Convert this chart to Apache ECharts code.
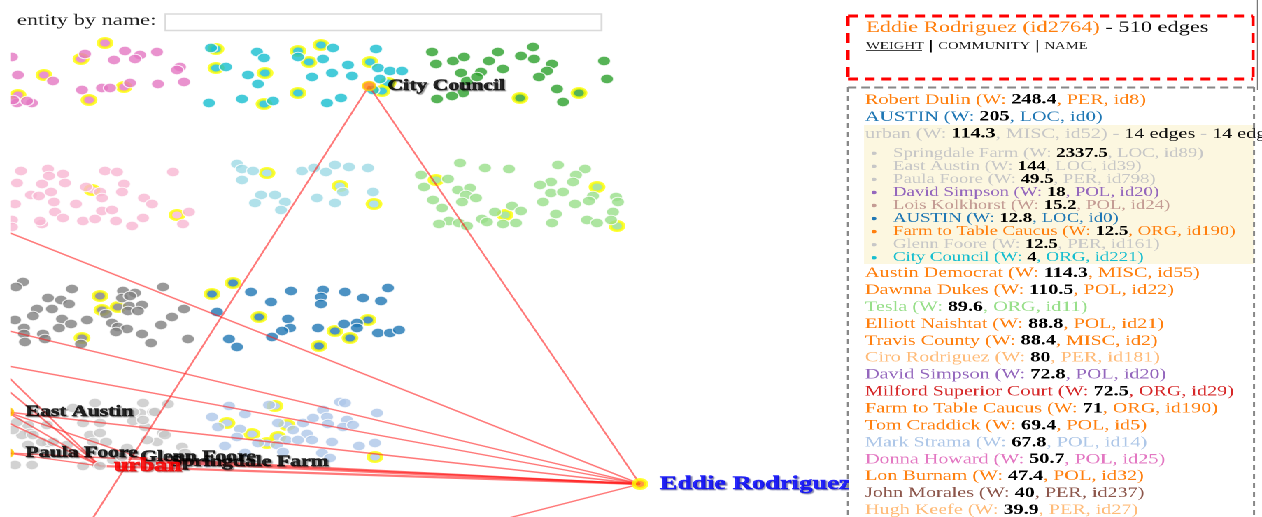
<!DOCTYPE html>
<html>
<head>
<meta charset="utf-8">
<script src="https://cdn.jsdelivr.net/npm/echarts@6/dist/echarts.min.js"></script>
<style>
  html, body { margin: 0; padding: 0; background: #fff; overflow: hidden; }
  /* the reference is stretched sideways, so the chart is drawn narrow and widened */
  #chart { width: 902px; height: 517px; transform: scaleX(1.39911); transform-origin: 0 0; }
</style>
</head>
<body>
<div id="chart"></div>
<script>
const S = 1262 / 902
const sx = v => v / S
const FONT = '"Liberation Serif", "Times New Roman", serif'

// node layout per community: [x, y, highlighted]
const pinkNodes = [[12,57],[105,43,1],[85,54],[81,59,1],[125,51],[140,55],[135,59],[114,60],[157,52],[180,67],[177,70],[18,75],[44,75,1],[53,81],[82,90],[102,88],[110,88],[124,87,1],[130,83],[158,84],[184,82],[18,95,1],[17,103],[32,103],[27,101],[89,100,1],[13,100]]
const cyanNodes = [[216,49,1],[211,48],[257,52],[264,58],[298,51,1],[298,57],[309,62,1],[321,45,1],[333,48],[323,59],[376,49],[370,62,1],[378,68],[390,71],[402,71],[216,68,1],[226,67],[248,75],[265,73,1],[258,84],[312,77],[332,73],[348,65],[352,76],[380,79],[388,83,1],[373,90],[382,91,1],[298,93,1],[209,103],[242,99],[264,104,1],[273,101],[327,103],[341,98]]
const greenNodes = [[432,52],[436,64],[453,61],[464,57],[461,73],[467,81],[463,93],[452,96],[437,99],[481,72],[477,77],[489,61],[498,52],[503,69],[521,56],[533,47],[534,59],[552,64],[547,71],[539,77],[557,89],[563,102],[520,98,1],[579,93,1],[604,61],[607,79]]
const lightPinkNodes = [[21,171],[48,169],[49,176],[63,174],[105,171],[117,172],[173,172],[17,183],[42,184],[65,183],[92,190,1],[86,187],[100,192],[124,184],[31,195],[39,196],[51,192],[102,198],[122,192],[144,198],[152,204],[15,204],[54,202],[76,204],[55,212],[102,211],[112,210],[177,215,1],[189,212],[183,224],[63,218],[83,221],[95,219],[116,221],[143,218],[132,226],[42,224],[40,221],[12,220],[12,227]]
const lightCyanNodes = [[237,164],[242,169],[253,171],[267,173,1],[242,180],[302,171],[314,168],[326,172],[335,165],[349,167],[368,168],[340,186,1],[343,192],[373,192],[374,204,1],[317,198],[335,203],[261,195],[275,195],[285,202],[255,203],[281,210]]
const lightGreenNodes = [[460,163],[485,168],[509,169],[421,175],[436,180,1],[448,179],[424,187],[458,190],[470,188],[466,195],[476,198],[462,202],[433,200],[442,208],[512,206],[521,211],[495,212],[505,215,1],[482,219],[487,222],[503,224],[516,223],[449,221],[459,223],[439,224],[467,226],[558,165],[585,169],[576,175],[551,182],[540,185],[573,182],[551,193],[563,192],[543,202],[575,204],[597,187,1],[593,196],[589,201],[616,197],[618,202],[613,212],[556,214],[552,223],[587,220],[597,223],[611,220],[617,226,1]]
const grayNodes = [[23,282],[16,287],[72,289],[48,298],[61,300],[69,304],[100,296,1],[123,291],[135,293],[122,298],[130,296],[118,307,1],[129,306],[142,305],[128,311],[138,311],[102,310,1],[106,314],[163,287],[37,309],[52,309],[33,316],[15,320],[62,319],[71,324],[59,328],[87,320],[112,323],[118,327],[127,329],[116,332],[24,328],[24,334],[43,334],[45,339],[25,342],[82,338,1],[81,344],[142,334],[151,343],[161,325],[172,317],[184,309],[188,339]]
const blueNodes = [[233,283,1],[212,294,1],[251,292],[291,291],[323,290],[345,292],[388,288],[271,302],[321,297],[321,304],[363,298],[381,301],[217,312],[259,317,1],[288,319],[290,328],[282,331],[318,328],[335,331,1],[344,324],[357,323],[357,328],[368,320,1],[350,338,1],[378,333],[390,333],[399,330],[272,337],[229,339],[237,347],[319,346,1]]
const lightGrayNodes = [[95,403],[143,403],[168,404],[140,413],[153,412],[133,421],[145,427],[83,423],[100,423],[28,425],[30,433],[17,422],[22,435],[90,435],[100,433],[106,442],[93,442],[48,443],[42,442],[28,445],[163,433],[157,442],[182,447],[185,453],[127,448],[87,450],[32,465],[83,466],[98,465],[113,460],[13,430],[15,465],[73,408],[47,425],[33,435],[53,442],[67,445],[147,440],[165,435],[143,420],[155,412],[133,412]]
const lightBlueNodes = [[229,406],[269,405],[275,406,1],[340,402],[345,403],[245,414],[212,417],[227,423,1],[218,427],[323,410],[377,413],[278,423],[287,425,1],[303,423],[313,418],[327,417],[328,424],[347,420],[343,427],[353,425],[240,429],[252,434,1],[237,437],[278,437,1],[293,430],[307,434],[286,440],[298,440],[312,440],[258,443],[267,443,1],[277,445],[332,442],[225,446],[245,453],[283,452],[322,453],[330,458],[359,446],[375,443],[375,457,1],[207,463]]

// named nodes (the last ones sit outside the view)
const keyNames = ['East Austin', 'Paula Foore', 'Glenn Foore', 'Springdale Farm', 'City Council', 'Eddie Rodriguez', 'urban']
const keyX = [7, 7, 122, 152, 369, 640, 100]
const keyY = [412, 453, 457, 462, 86, 484, 466]
const outNames = ['Robert Dulin', 'Austin Democrat', 'Dawnna Dukes', 'Tom Craddick', 'Travis County', 'David Simpson', 'Lois Kolkhorst', 'AUSTIN']
const outX = [-40, -40, -40, 420, 66, -40, -40, -40]
const outY = [213, 319, 357, 541, 560, 330, 351, 400]

const edgeSources = ['Eddie Rodriguez','Eddie Rodriguez','Eddie Rodriguez','Eddie Rodriguez','Eddie Rodriguez','Eddie Rodriguez','Eddie Rodriguez','Eddie Rodriguez','Eddie Rodriguez','Eddie Rodriguez','City Council','urban','urban','urban','urban','urban','East Austin']
const edgeTargets = ['City Council','Robert Dulin','Austin Democrat','Dawnna Dukes','Tom Craddick','East Austin','Paula Foore','Glenn Foore','Springdale Farm','urban','Travis County','David Simpson','Lois Kolkhorst','AUSTIN','East Austin','Paula Foore','Springdale Farm']
const edgeWeights = [4, 248.4, 114.3, 110.5, 69.4, 144, 49.5, 12.5, 2337.5, 114.3, 88.4, 18, 15.2, 12.8, 144, 49.5, 20]

// side list
const listNames = ['Robert Dulin','AUSTIN','urban','Austin Democrat','Dawnna Dukes','Tesla','Elliott Naishtat','Travis County','Ciro Rodriguez','David Simpson','Milford Superior Court','Farm to Table Caucus','Tom Craddick','Mark Strama','Donna Howard','Lon Burnam','John Morales','Hugh Keefe']
const listWeights = [248.4, 205, 114.3, 114.3, 110.5, 89.6, 88.8, 88.4, 80, 72.8, 72.5, 71, 69.4, 67.8, 50.7, 47.4, 40, 39.9]
const listTypes = ['PER','LOC','MISC','MISC','POL','ORG','POL','MISC','PER','POL','ORG','ORG','POL','POL','POL','POL','PER','PER']
const listIds = ['id8','id0','id52','id55','id22','id11','id21','id2','id181','id20','id29','id190','id5','id14','id25','id32','id237','id27']
const urbanNames = ['Springdale Farm','East Austin','Paula Foore','David Simpson','Lois Kolkhorst','AUSTIN','Farm to Table Caucus','Glenn Foore','City Council']
const urbanWeights = [2337.5, 144, 49.5, 18, 15.2, 12.8, 12.5, 12.5, 4]
const urbanTypes = ['LOC','LOC','PER','POL','POL','LOC','ORG','PER','ORG']
const urbanIds = ['id89','id39','id798','id20','id24','id0','id190','id161','id221']

// community colours (style)
const listColors = ['#ff7f0e','#1f77b4','#c7c7c7','#ff7f0e','#ff7f0e','#98df8a','#ff7f0e','#ff7f0e','#ffbb78','#9467bd','#d62728','#ff7f0e','#ff7f0e','#aec7e8','#e377c2','#ff7f0e','#8c564b','#ffbb78']
const urbanColors = ['#c7c7c7','#c7c7c7','#c7c7c7','#9467bd','#c49c94','#1f77b4','#ff7f0e','#c7c7c7','#17becf']

const chart = echarts.init(document.getElementById('chart'), null, { devicePixelRatio: 2 })

const clusterSeries = (points, color) => ({
  type: 'scatter',
  z: 2,
  silent: true,
  symbol: 'circle',
  symbolSize: 9.5,
  data: points.slice().sort((a, b) => (b[2] || 0) - (a[2] || 0)).map(p => ({
    value: [p[0], p[1]],
    itemStyle: p[2]
      ? { color, borderColor: '#ffff00', borderWidth: 2.5 }
      : { color, borderColor: '#ffffff', borderWidth: 1 }
  }))
})

const pos = {}
keyNames.forEach((n, i) => { pos[n] = [keyX[i], keyY[i]] })
outNames.forEach((n, i) => { pos[n] = [outX[i], outY[i]] })

const keyStyle = {
  'Eddie Rodriguez': { color: '#ff7f0e', borderColor: '#ffff00', borderWidth: 3 },
  'City Council': { color: '#ff7f0e', borderColor: '#ffd200', borderWidth: 1.5 },
  'East Austin': { color: '#ff9f0e', borderColor: '#ffcc00', borderWidth: 1.5 },
  'Paula Foore': { color: '#ff9f0e', borderColor: '#ffcc00', borderWidth: 1.5 },
  'Glenn Foore': { color: '#c7c7c7', borderColor: '#fff', borderWidth: 1 },
  'Springdale Farm': { color: '#c7c7c7', borderColor: '#fff', borderWidth: 1 },
  'urban': { color: '#c7c7c7', borderColor: '#fff', borderWidth: 1 }
}
const keyLabel = {
  'Eddie Rodriguez': { fontSize: 19, color: '#0000ff', textBorderColor: '#0000ff', textShadowColor: 'rgba(0,0,90,0.55)' },
  'urban': { fontSize: 18.5, color: '#ff0000', textBorderColor: '#ff0000', textBorderWidth: 0.8, textShadowColor: 'rgba(120,0,0,0.5)', distance: 5 }
}
const keyLabelBase = {
  show: true,
  position: 'right',
  distance: 8,
  formatter: '{b}',
  fontFamily: FONT,
  fontWeight: 'bold',
  fontSize: 15.5,
  color: '#000',
  textBorderColor: '#000',
  textBorderWidth: 0.5,
  textShadowColor: 'rgba(0,0,0,0.5)',
  textShadowBlur: 1,
  textShadowOffsetX: 1,
  textShadowOffsetY: 1
}
const keySeries = (names, z) => ({
  type: 'scatter',
  z,
  silent: true,
  symbol: 'circle',
  symbolSize: 9,
  data: names.map(n => ({
    name: n,
    value: pos[n],
    itemStyle: keyStyle[n],
    label: keyLabel[n] || {}
  })),
  label: keyLabelBase
})

// side panel
const panel = []
const line = (x1, y1, x2, y2, stroke, lineWidth, lineDash) => ({
  type: 'line', z: 101, silent: true,
  shape: { x1: sx(x1), y1, x2: sx(x2), y2 },
  style: { stroke, lineWidth, lineDash }
})
const rich = (color, size) => ({
  t: { fill: color, color, fontSize: size, fontFamily: FONT },
  n: { fill: '#000', color: '#000', fontWeight: 'bold', fontSize: size, fontFamily: FONT },
  k: { fill: '#111', color: '#111', fontSize: size, fontFamily: FONT }
})
const row = (x, y, name, w, type, id, color, size, tail) => ({
  type: 'text', z: 102, silent: true, x: sx(x), y,
  style: {
    text: `{t|${name} (W: }{n|${w}}{t|, ${type}, ${id})}` + (tail || ''),
    rich: rich(color, size), verticalAlign: 'middle', fontSize: size, fontFamily: FONT
  }
})

panel.push({ type: 'rect', z: 100, silent: true, shape: { x: sx(849), y: 0, width: sx(420), height: 517 }, style: { fill: '#fff' } })
panel.push({ type: 'rect', z: 100, silent: true, shape: { x: 0, y: 35, width: sx(11), height: 490 }, style: { fill: '#fff' } })
panel.push({ type: 'rect', z: 100, silent: true, shape: { x: sx(864), y: 125, width: sx(390), height: 139 }, style: { fill: '#fcf7e0' } })

// red box
panel.push(line(848, 16, 1253, 16, '#ff0000', 3, [7, 5]))
panel.push(line(848, 79, 1253, 79, '#ff0000', 3, [7, 5]))
panel.push(line(848, 16, 848, 79, '#ff0000', 2.3, [10, 7]))
panel.push(line(1253, 16, 1253, 79, '#ff0000', 2.3, [10, 7]))
panel.push(line(1257.5, 0, 1257.5, 90, '#777', 0.8))
// grey box
panel.push(line(848, 87.5, 1254, 87.5, '#888', 2, [6, 3.5]))
panel.push(line(848, 87, 848, 520, '#888', 1.5, [5, 4]))
panel.push(line(1254, 87, 1254, 520, '#888', 1.5, [5, 4]))

panel.push({
  type: 'text', z: 102, silent: true, x: sx(866), y: 28,
  style: {
    text: '{o|Eddie Rodriguez (id2764)}{k| - 510 edges}',
    verticalAlign: 'middle', fontSize: 16, fontFamily: FONT,
    rich: {
      o: { fill: '#ff7f0e', color: '#ff7f0e', fontSize: 16, fontFamily: FONT },
      k: { fill: '#111', color: '#111', fontSize: 16, fontFamily: FONT }
    }
  }
})
panel.push({
  type: 'text', z: 102, silent: true, x: sx(866), y: 46,
  style: {
    text: '{w|WEIGHT}{s| | }{w|COMMUNITY}{s| | }{w|NAME}',
    verticalAlign: 'middle', fontSize: 10.5, fontFamily: FONT,
    rich: {
      w: { fill: '#222', color: '#222', fontSize: 10.5, fontFamily: FONT },
      s: { fill: '#000', color: '#000', fontSize: 14, fontWeight: 'bold', fontFamily: FONT }
    }
  }
})
panel.push(line(866, 50.5, 922, 50.5, '#444', 1))

// search box
panel.push({ type: 'text', z: 102, silent: true, x: sx(17), y: 21, style: { text: 'entity by name:', fontSize: 16, fontFamily: FONT, fill: '#222', verticalAlign: 'middle' } })
panel.push({ type: 'rect', z: 102, silent: true, shape: { x: sx(165.5), y: 14, width: sx(436), height: 16.5 }, style: { fill: '#fff', stroke: '#dadada', lineWidth: 1.4 } })

listNames.forEach((name, i) => {
  const y = i < 3 ? 100 + i * 17 : 273.3 + (i - 3) * 16.93
  const tail = name === 'urban' ? '{t| - }{k|14 edges}{t| - }{k|14 edges}' : ''
  panel.push(row(865, y, name, listWeights[i], listTypes[i], listIds[i], listColors[i], 14.4, tail))
})
urbanNames.forEach((name, i) => {
  const y = 153.3 + i * 13.05
  panel.push({ type: 'circle', z: 102, silent: true, shape: { cx: sx(874), cy: y, r: 1.7 }, style: { fill: urbanColors[i] } })
  panel.push(row(893, y, name, urbanWeights[i], urbanTypes[i], urbanIds[i], urbanColors[i], 13.4))
})

const option = {
  animation: false,
  backgroundColor: '#fff',
  grid: { left: 0, right: 0, top: 0, bottom: 0 },
  xAxis: { type: 'value', min: 0, max: 1262, show: false },
  yAxis: { type: 'value', min: 0, max: 517, inverse: true, show: false },
  graphic: panel,
  series: [
    clusterSeries(pinkNodes, '#e377c2'),
    clusterSeries(cyanNodes, '#17becf'),
    clusterSeries(greenNodes, '#2ca02c'),
    clusterSeries(lightPinkNodes, '#f7b6d2'),
    clusterSeries(lightCyanNodes, '#9edae5'),
    clusterSeries(lightGreenNodes, '#98df8a'),
    clusterSeries(grayNodes, '#7f7f7f'),
    clusterSeries(blueNodes, '#1f77b4'),
    clusterSeries(lightGrayNodes, '#c7c7c7'),
    clusterSeries(lightBlueNodes, '#aec7e8'),
    {
      type: 'lines',
      coordinateSystem: 'cartesian2d',
      z: 3,
      silent: true,
      data: edgeSources.map((s, i) => ({
        coords: [pos[s], pos[edgeTargets[i]]],
        lineStyle: { width: edgeWeights[i] > 100 && edgeTargets[i] === 'urban' || edgeWeights[i] > 1000 ? 2.2 : 1.4 }
      })),
      lineStyle: { color: '#ff2020', opacity: 0.6, width: 1.4 }
    },
    keySeries(keyNames.filter(n => n !== 'urban'), 4),
    keySeries(['urban'], 5)
  ]
}

chart.setOption(option)
</script>
</body>
</html>
